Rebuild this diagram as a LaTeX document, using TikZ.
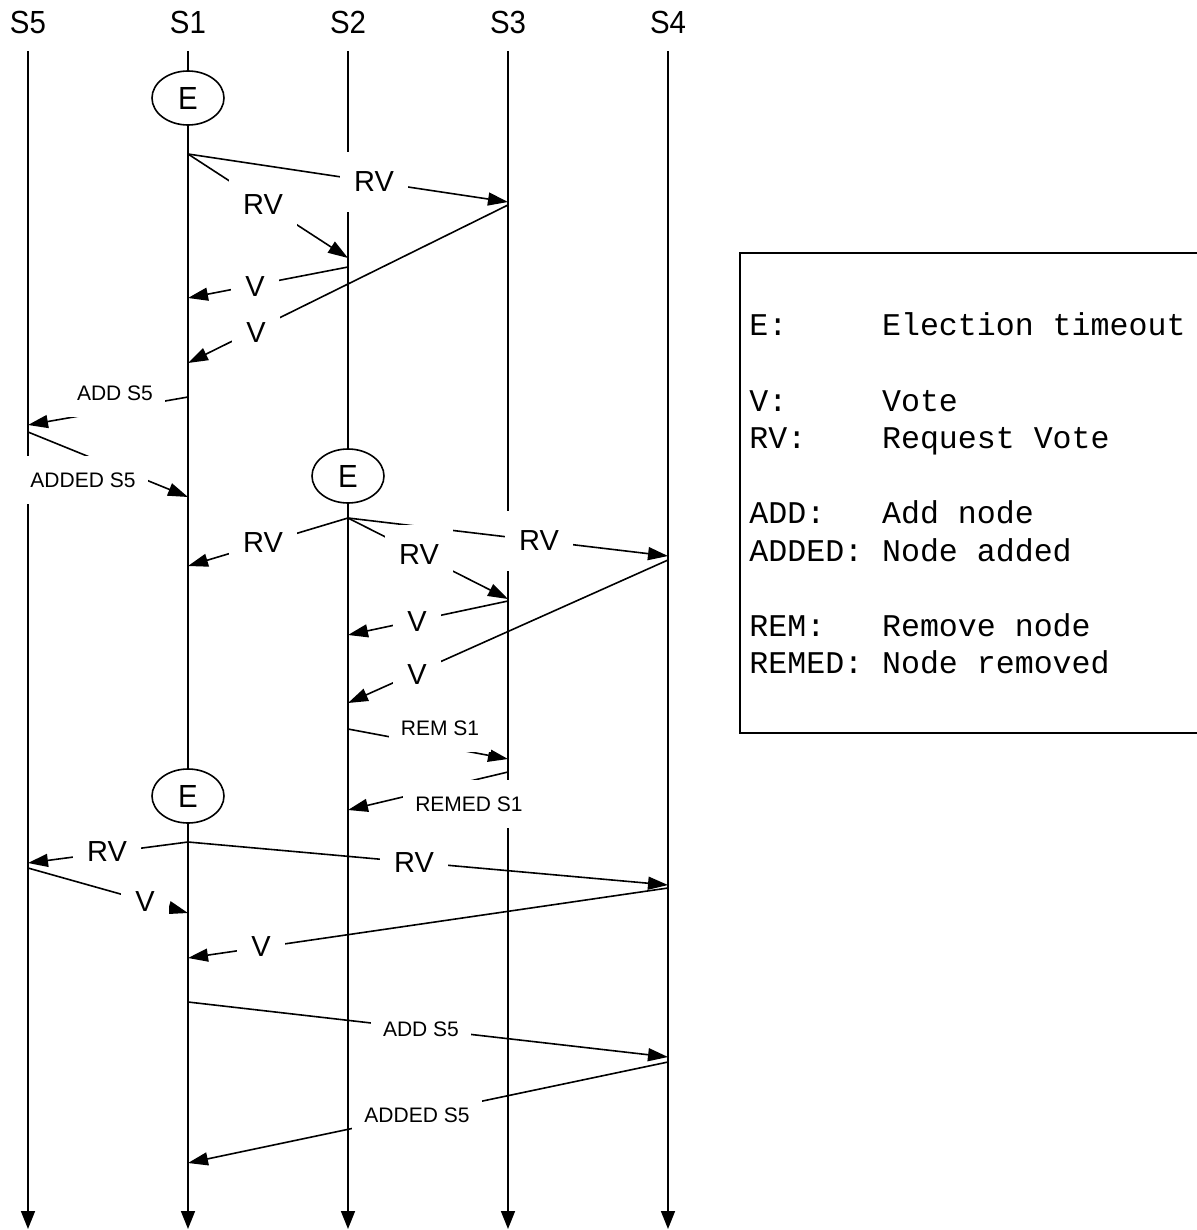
\documentclass[tikz,border=0pt]{standalone}
\usepackage{fontspec}
\setmainfont{Liberation Sans}
\newfontfamily\legendfont{Liberation Mono}
\newfontfamily\hdrfont[FakeStretch=0.92]{Liberation Sans}
\usetikzlibrary{arrows.meta,shapes.geometric}
\begin{document}
\begin{tikzpicture}[x=0.5pt,y=-0.5pt,
  life/.style={line width=0.8pt,-{Triangle[length=9pt,width=7pt]}},
  msg/.style={line width=0.8pt,-{Triangle[length=10pt,width=6.5pt]}},
  hdr/.style={font=\hdrfont\fontsize{16pt}{18pt}\selectfont,inner sep=0pt},
  big/.style={font=\fontsize{14.5pt}{16pt}\selectfont,fill=white,inner xsep=7pt,inner ysep=0pt,minimum height=30pt},
  small/.style={font=\fontsize{10.5pt}{12pt}\selectfont,fill=white,inner xsep=6pt,inner ysep=0pt,minimum height=24pt},
  evt/.style={ellipse,draw,line width=0.8pt,fill=white,minimum width=36pt,minimum height=27pt,inner sep=0pt,font=\hdrfont\fontsize{16pt}{18pt}\selectfont},
  lgd/.style={font=\legendfont\fontsize{15.8pt}{18pt}\selectfont,anchor=base west,inner sep=0pt}]
\useasboundingbox (0,0) rectangle (1197,1230);

% headers
\node[hdr] (h5) at (28,22) {S5};
\node[hdr] (h1) at (188,22) {S1};
\node[hdr] (h2) at (348,22) {S2};
\node[hdr] (h3) at (508,22) {S3};
\node[hdr] (h4) at (668,22) {S4};

% lifelines
\foreach \n/\x in {5/28,1/188,2/348,3/508,4/668}{
  \coordinate (t\n) at (\x,51);
  \coordinate (b\n) at (\x,1229);
  \draw[life] (t\n) -- (b\n);
}

% message end points
\coordinate (a1) at (188,154);  \coordinate (z1) at (508,202);
\coordinate (a2) at (188,154);  \coordinate (z2) at (348,258);
\coordinate (a3) at (348,267);  \coordinate (z3) at (188,298);
\coordinate (a4) at (508,205);  \coordinate (z4) at (188,363);
\coordinate (a5) at (188,397);  \coordinate (z5) at (28,425);
\coordinate (a6) at (28,432);   \coordinate (z6) at (188,497);
\coordinate (a7) at (348,518);  \coordinate (z7) at (188,566);
\coordinate (a8) at (348,518);  \coordinate (z8) at (508,599);
\coordinate (a9) at (348,518);  \coordinate (z9) at (668,556);
\coordinate (a10) at (508,601); \coordinate (z10) at (348,635);
\coordinate (a11) at (668,560); \coordinate (z11) at (348,703);
\coordinate (a12) at (348,729); \coordinate (z12) at (508,759);
\coordinate (a13) at (508,772); \coordinate (z13) at (348,810);
\coordinate (a14) at (188,842); \coordinate (z14) at (28,863);
\coordinate (a15) at (188,842); \coordinate (z15) at (668,885);
\coordinate (a16) at (28,868);  \coordinate (z16) at (188,913);
\coordinate (a17) at (668,888); \coordinate (z17) at (188,958);
\coordinate (a18) at (188,1002);\coordinate (z18) at (668,1057);
\coordinate (a19) at (668,1062);\coordinate (z19) at (188,1163);

\foreach \i in {1,...,19}{ \draw[msg] (a\i) -- (z\i); }

% election timeouts
\node[evt] (e1) at (188,98) {E};
\node[evt] (e2) at (348,476) {E};
\node[evt] (e3) at (188,796) {E};

% labels (on top of all lines)
\node[big] (l1) at (374,182) {RV};
\node[big] (l2) at (263,205) {RV};
\node[big] (l3) at (255,287) {V};
\node[big] (l4) at (256,333) {V};
\node[small] (l5) at (115,393) {ADD S5};
\node[small] (l6) at (83,480) {ADDED S5};
\node[big] (l7) at (263,543) {RV};
\node[big] (l8) at (419,555) {RV};
\node[big] (l9) at (539,541) {RV};
\node[big] (l10) at (417,622) {V};
\node[big] (l11) at (417,675) {V};
\node[small] (l12) at (440,728) {REM S1};
\node[small] (l13) at (469,804) {REMED S1};
\node[big,minimum height=24pt] (l14) at (107,852) {RV};
\node[big] (l15) at (414,863) {RV};
\node[big] (l16) at (145,902) {V};
\node[big] (l17) at (261,947) {V};
\node[small] (l18) at (421,1029) {ADD S5};
\node[small] (l19) at (417,1115) {ADDED S5};

% legend
\coordinate (g1) at (1197,253);
\coordinate (g2) at (740,253);
\coordinate (g3) at (740,733);
\coordinate (g4) at (1197,733);
\draw[line width=0.7pt] (g1) -- (g2) -- (g3) -- (g4);
\node[lgd] (k1) at (749,335) {\makebox[4.2em][l]{E:}Election timeout};
\node[lgd] (k2) at (749,411) {\makebox[4.2em][l]{V:}Vote};
\node[lgd] (k3) at (749,448) {\makebox[4.2em][l]{RV:}Request Vote};
\node[lgd] (k4) at (749,523) {\makebox[4.2em][l]{ADD:}Add node};
\node[lgd] (k5) at (749,561) {\makebox[4.2em][l]{ADDED:}Node added};
\node[lgd] (k6) at (749,636) {\makebox[4.2em][l]{REM:}Remove node};
\node[lgd] (k7) at (749,673) {\makebox[4.2em][l]{REMED:}Node removed};
\end{tikzpicture}
\end{document}
